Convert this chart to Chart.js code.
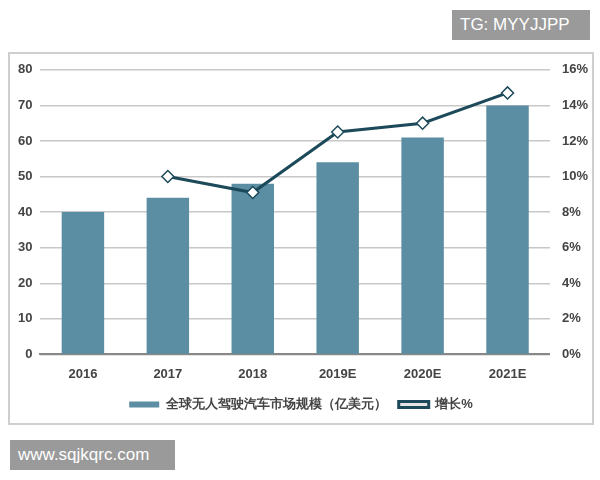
<!DOCTYPE html>
<html><head><meta charset="utf-8">
<script src="https://cdn.jsdelivr.net/npm/chart.js@4"></script>
<style>
body{margin:0;width:600px;height:480px;background:#fff;position:relative;font-family:"Noto Sans CJK SC","Liberation Sans",sans-serif;}
#box{position:absolute;left:8px;top:52px;width:582px;height:369px;border:2px solid #cfcfcf;}
.wm{position:absolute;background:#9a9a9a;color:#fff;font-family:"Liberation Sans",Arial,sans-serif;font-size:17px;line-height:30px;padding:0 8px;}
</style></head><body>
<div class="wm" style="left:452px;top:10px;width:122px;height:30px;">TG: MYYJJPP</div>
<div id="box"><canvas id="c" width="582" height="369"></canvas></div>
<div class="wm" style="left:10px;top:440px;width:149px;height:30px;">www.sqjkqrc.com</div>
<script>
const categories=["2016","2017","2018","2019E","2020E","2021E"];
const marketSize=[40,44,48,54,61,70];
const growth=[null,10,9.1,12.5,13,14.7];
new Chart(document.getElementById('c'),{
 data:{labels:categories,datasets:[
  {type:'line',label:'增长%',data:growth,yAxisID:'y1',borderColor:'#1d4a5a',borderWidth:3,pointStyle:'rectRot',pointRadius:6,pointBackgroundColor:'#fff',pointBorderColor:'#1d4a5a',pointBorderWidth:1.5,order:0},
  {type:'bar',label:'全球无人驾驶汽车市场规模（亿美元）',data:marketSize,yAxisID:'y',backgroundColor:'#5b8ea3',categoryPercentage:0.5,barPercentage:1,order:1}
 ]},
 options:{responsive:false,animation:false,
  layout:{padding:{left:0,right:0,top:7,bottom:2}},
  plugins:{legend:{position:'bottom',reverse:true,labels:{color:'#444',font:{size:13,weight:'bold'},boxWidth:30,boxHeight:6,padding:12}},tooltip:{enabled:false}},
  scales:{
   x:{grid:{display:false},border:{color:'#888',width:2},ticks:{color:'#444',font:{size:13,weight:'bold'},padding:4}},
   y:{min:0,max:80,ticks:{stepSize:10,color:'#444',font:{size:13,weight:'bold'},padding:8},grid:{color:'#c8c8c8',lineWidth:1.5,drawTicks:false},border:{display:false}},
   y1:{position:'right',min:0,max:16,ticks:{stepSize:2,color:'#444',font:{size:13,weight:'bold'},padding:4,callback:v=>v+'%'},grid:{display:false},border:{display:false}}
  }}
});
</script></body></html>
